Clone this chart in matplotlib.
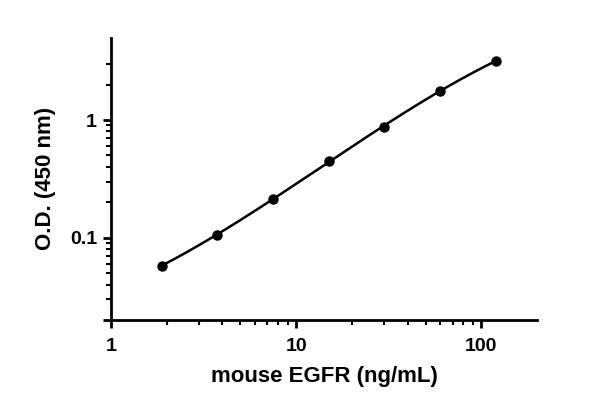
import numpy as np
import matplotlib.pyplot as plt
from matplotlib.ticker import FixedLocator, NullFormatter

plt.rcParams['font.family'] = ['Liberation Sans', 'DejaVu Sans']
plt.rcParams['font.weight'] = 'bold'

# standard curve data
conc = [1.875, 3.75, 7.5, 15, 30, 60, 120]
od = [0.058, 0.106, 0.212, 0.451, 0.879, 1.78, 3.18]

x_ticks = [1, 10, 100]
x_ticklabels = ["1", "10", "100"]
y_ticks = [0.1, 1]
y_ticklabels = ["0.1", "1"]

# smooth fit in log-log space
lx = np.log10(conc)
ly = np.log10(od)
coef = np.polyfit(lx, ly, 3)
xs = np.linspace(lx[0], lx[-1], 200)
ys = np.polyval(coef, xs)

fig = plt.figure(figsize=(6, 4.09), dpi=100)
ax = fig.add_axes([0.185, 0.2176, 0.71, 0.69])

ax.plot(10 ** xs, 10 ** ys, color='black', lw=1.8)
ax.plot(conc, od, 'o', color='black', ms=6.5)

ax.set_xscale('log')
ax.set_yscale('log')
ax.set_xlim(1, 200)
ax.set_ylim(0.02, 5)

ax.xaxis.set_major_locator(FixedLocator(x_ticks))
ax.set_xticklabels(x_ticklabels)
ax.xaxis.set_minor_locator(FixedLocator([2, 3, 4, 5, 6, 7, 8, 9,
                                         20, 30, 40, 50, 60, 70, 80, 90]))
ax.xaxis.set_minor_formatter(NullFormatter())

ax.yaxis.set_major_locator(FixedLocator(y_ticks + [0.02]))
ax.set_yticklabels(y_ticklabels + [""])
ax.yaxis.set_minor_locator(FixedLocator([0.03, 0.04, 0.05, 0.06, 0.07, 0.08, 0.09,
                                         0.2, 0.3, 0.4, 0.5, 0.6, 0.7, 0.8, 0.9,
                                         2, 3]))
ax.yaxis.set_minor_formatter(NullFormatter())

for s in ['top', 'right']:
    ax.spines[s].set_visible(False)
for s in ['left', 'bottom']:
    ax.spines[s].set_linewidth(2)

ax.tick_params(which='major', length=6, width=2, labelsize=14)
ax.tick_params(axis='x', which='major', pad=7)
ax.tick_params(axis='y', which='major', pad=4)
ax.tick_params(which='minor', length=3.5, width=1.5)

ax.set_xlabel("mouse EGFR (ng/mL)", fontsize=16, fontweight='bold', labelpad=8)
ax.set_ylabel("O.D. (450 nm)", fontsize=16, fontweight='bold', labelpad=10)

fig.savefig("out.png", dpi=100)
